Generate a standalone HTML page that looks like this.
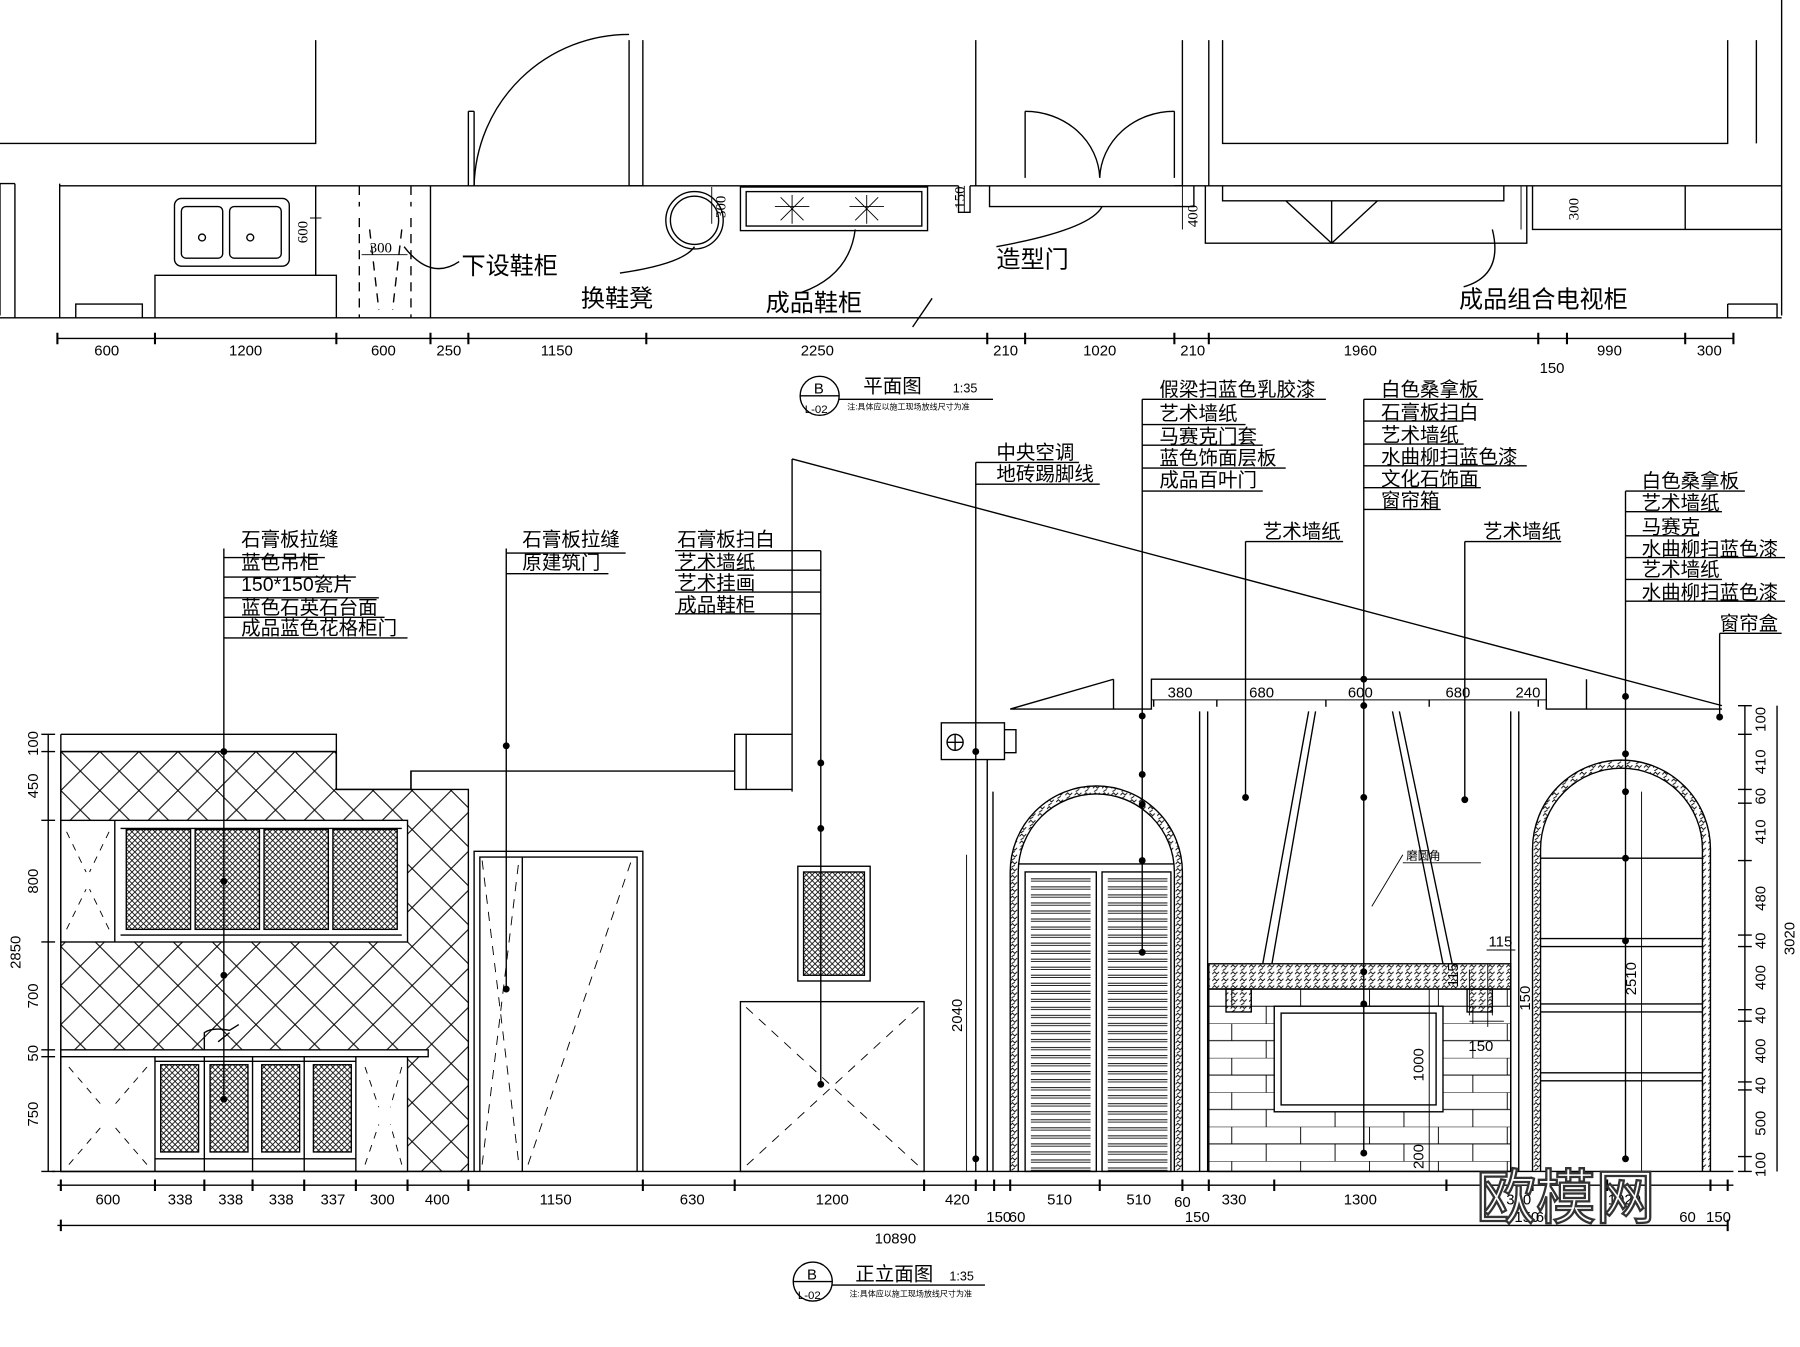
<!DOCTYPE html>
<html><head><meta charset="utf-8"><style>
html,body{margin:0;padding:0;background:#fff;}
svg{display:block}
text{font-family:"Liberation Sans","Noto Sans CJK SC",sans-serif;fill:#000}
.c{font-size:17px}
.d{font-size:13px;font-family:"Liberation Serif","Noto Sans CJK SC",serif}
</style></head><body>
<svg width="1800" height="1347" viewBox="0 0 1568 1174" preserveAspectRatio="none" xmlns="http://www.w3.org/2000/svg">
<defs>
<pattern id="dia" width="34" height="34" patternUnits="userSpaceOnUse" x="53" y="655"><path d="M0 0L34 34M34 0L0 34" stroke="#000" stroke-width="0.9"/></pattern>
<pattern id="mesh" width="5" height="5" patternUnits="userSpaceOnUse"><path d="M0 0L5 5M5 0L0 5" stroke="#000" stroke-width="0.7"/></pattern>
<pattern id="stone" width="8" height="6" patternUnits="userSpaceOnUse"><path d="M0 3l2-2 2 2 2-2M1 6l3-2" stroke="#000" stroke-width="0.8" fill="none"/></pattern>
<pattern id="brick" width="60" height="30" patternUnits="userSpaceOnUse" x="1053" y="862"><path d="M0 0H60M0 15H60M20 0V15M50 15V30" stroke="#000" stroke-width="0.8" fill="none"/></pattern>
<pattern id="lv" width="10" height="7" patternUnits="userSpaceOnUse"><path d="M0 3H10M0 5H10" stroke="#000" stroke-width="0.8"/></pattern>
</defs>
<rect width="1568" height="1174" fill="#fff"/>
<g stroke="#000" stroke-width="1.2" fill="none">
<!-- ===== PLAN ===== -->
<path d="M0 160V275M13 160V277M52 160V277M0 160H13"/>
<path d="M0 125H275V35M408 97V162M413 97V162M408 97H413"/>
<path d="M548 35V162M560 35V162M548 162H560"/>
<path d="M413 162A135 135 0 0 1 548 30"/>
<path d="M850 35V162M893 97V155M1023 97V155M1030 35V162M1023 162H1030"/>
<path d="M893 97A65 60 0 0 1 958 155M1023 97A65 60 0 0 0 958 155"/>
<path d="M1053 35V162M1065 35V125H1505V35M1530 35V125M1552 0V275M1505 35"/>
<path d="M52 162H835M845 162H1552M0 277H1552"/>
<path d="M835 162V185H845V162"/>
<rect x="152" y="173" width="100" height="59" rx="6"/>
<rect x="158" y="180" width="36" height="45" rx="4"/><rect x="200" y="180" width="45" height="45" rx="4"/>
<circle cx="176" cy="207" r="3"/><circle cx="218" cy="207" r="3"/>
<path d="M135 277V240H293V277M66 277V265H124V277"/>
<path d="M275 162V240M375 162V277" />
<path d="M313 190V277M358 190V277M313 162V180M358 162V180" stroke-dasharray="8 6"/>
<path d="M322 200L330 270M350 200L342 270" stroke-dasharray="8 6"/>
<circle cx="605" cy="192" r="25"/><circle cx="605" cy="192" r="21"/>
<rect x="645" y="163" width="163" height="38"/><rect x="650" y="167" width="153" height="30"/>
<path d="M690 170L690 195M675 180L705 180M680 172L700 192M700 172L680 192M755 170V195M740 180H770M745 172L765 192M765 172L745 192" stroke-width="0.8"/>
<path d="M862 162V180H1040V162M1050 162V212H1330V162"/>
<path d="M1065 162V175H1310V162M1120 175L1160 212M1200 175L1160 212M1160 175V212"/>
<path d="M1335 162V200H1468V162M1468 162V200H1552"/>
<path d="M1505 265H1548V277M1505 265V277"/>
<path d="M352 215Q375 245 400 228M540 238Q595 230 605 215M698 255Q740 240 745 200M868 215Q950 200 960 180M1275 250Q1310 240 1300 200M795 285L812 260"/>
<path d="M50 295H1510"/>
<path d="M50 290V300M135 290V300M293 290V300M375 290V300M408 290V300M563 290V300M860 290V300M893 290V300M1023 290V300M1053 290V300M1340 290V300M1365 290V300M1468 290V300M1510 290V300" stroke-width="1.8"/>
<path d="M275 190V240M270 190H280M270 240H280M840 162V185M1030 178V200M1030 162V180M1325 162V200M620 163V195" stroke-width="0.8"/>
<path d="M315 222H355" stroke-width="0.8"/>
<circle cx="714" cy="345" r="17"/><path d="M697 345H731M731 348H865"/>
<!-- ===== ELEVATION ===== -->
<path d="M690 400V690M690 400L1500 615"/>
<path d="M53 640H293V688H358V672H640V688H690M293 655H53M640 672V640H690M53 640V1021"/>
<path d="M358 672V688M650 640V688"/>
<path d="M53 655H293V688H408V1021H53Z" fill="url(#dia)"/>
<rect x="53" y="715" width="302" height="106" fill="#fff"/>
<path d="M100 715V821M105 722H350M105 815H350" />
<rect x="110" y="723" width="56" height="87" fill="url(#mesh)"/><rect x="170" y="723" width="56" height="87" fill="url(#mesh)"/>
<rect x="230" y="723" width="56" height="87" fill="url(#mesh)"/><rect x="290" y="723" width="56" height="87" fill="url(#mesh)"/>
<path d="M58 725L75 760M95 725L78 760M58 810L75 775M95 810L78 775" stroke-dasharray="6 6" stroke-width="0.8"/>
<rect x="53" y="915" width="320" height="6" fill="#fff"/>
<rect x="53" y="921" width="302" height="100" fill="#fff"/>
<path d="M135 921V1021M178 921V1021M220 921V1021M265 921V1021M310 921V1021M135 925H310M135 1010H310"/>
<rect x="140" y="928" width="33" height="76" fill="url(#mesh)"/><rect x="183" y="928" width="33" height="76" fill="url(#mesh)"/>
<rect x="228" y="928" width="33" height="76" fill="url(#mesh)"/><rect x="273" y="928" width="33" height="76" fill="url(#mesh)"/>
<path d="M60 930L90 965M128 930L98 965M60 1015L90 980M128 1015L98 980M318 930L330 965M350 930L340 965M318 1015L330 980M350 1015L340 980" stroke-dasharray="6 6" stroke-width="0.8"/>
<path d="M178 915V900Q185 895 200 898L208 893M190 908L200 900" />
<path d="M413 1021V742H560V1021M418 1021V747H555V1021M455 747V1021"/>
<path d="M420 750L452 1015M420 1015L452 750M460 1015L550 750" stroke-dasharray="8 7" stroke-width="0.8"/>
<rect x="695" y="755" width="63" height="100"/><rect x="700" y="760" width="53" height="90" fill="url(#mesh)"/>
<rect x="645" y="873" width="160" height="148"/>
<path d="M650 878L800 1016M800 878L650 1016" stroke-dasharray="8 7" stroke-width="0.8"/>
<rect x="820" y="630" width="55" height="32"/><circle cx="832" cy="647" r="7"/><path d="M825 647H839M832 640V654M875 636H885V656H875"/>
<path d="M850 662V1021M860 662V1021M865 1021V690"/>
<path d="M880 1021V760A75 75 0 0 1 1030 760V1021M887 1021V760A68 68 0 0 1 1023 760V1021"/>
<path d="M880 760A75 75 0 0 1 1030 760V1021H1023V760A68 68 0 0 0 887 760V1021H880Z" fill="url(#stone)" stroke="none"/>
<path d="M887 753H1023M893 760H955V1021H893ZM960 760H1020V1021H960Z"/>
<rect x="898" y="765" width="52" height="256" fill="url(#lv)" stroke="none"/><rect x="965" y="765" width="52" height="256" fill="url(#lv)" stroke="none"/>
<path d="M970 592V618H880L970 592M970 618H1003V592H1347V618H1382V592M1382 592L1382 618H1500"/>
<path d="M1003 610H1347" stroke-width="0.9"/>
<path d="M1045 620V1021M1052 620V1021M1316 620V1021M1323 620V1021"/>
<path d="M1140 620L1100 840M1146 620L1108 840M1213 620L1257 840M1219 620L1265 840"/>
<rect x="1053" y="840" width="263" height="22" fill="url(#stone)"/>
<rect x="1053" y="862" width="263" height="159" fill="url(#brick)"/>
<rect x="1068" y="862" width="22" height="20" fill="url(#stone)"/><rect x="1278" y="862" width="22" height="20" fill="url(#stone)"/>
<rect x="1110" y="877" width="147" height="92" fill="#fff"/><rect x="1116" y="883" width="135" height="80" fill="#fff"/>
<path d="M1335 1021V740A77 77 0 0 1 1490 740V1021M1342 1021V740A70 70 0 0 1 1483 740V1021"/>
<path d="M1335 740A77 77 0 0 1 1490 740V1021H1483V740A70 70 0 0 0 1342 740V1021H1335Z" fill="url(#stone)" stroke="none"/>
<path d="M1342 748H1483M1342 818H1483M1342 825H1483M1342 875H1483M1342 882H1483M1342 935H1483M1342 942H1483"/>
<path d="M45 1021H1510"/>
<path d="M195 478V960M195 486H283M195 503H310M195 521H330M195 538H335M195 556H355"/>
<path d="M441 478V862M441 482H545M441 500H530"/>
<path d="M588 480H715M588 497H715M588 516H715M588 535H715M715 480V945"/>
<path d="M850 403H940M850 422H958M850 403V662"/>
<path d="M995 348H1155M995 370H1085M995 388H1100M995 408H1120M995 428H1100M995 348V830"/>
<path d="M1188 348H1292M1188 367H1275M1188 387H1275M1188 406H1330M1188 425H1290M1188 444H1255M1188 348V1005"/>
<path d="M1416 428H1520M1416 446H1500M1416 467H1480M1416 486H1555M1416 505H1500M1416 524H1555M1416 428V1010"/>
<path d="M1085 472H1170M1085 472V695M1276 472H1360M1276 472V697M1498 552H1552M1498 552V625"/>
<path d="M1222 745L1195 790M1222 752H1290" stroke-width="0.8"/>
<path d="M1005 610V616M1060 610V616M1155 610V616M1245 610V616M1340 610V616"/>
<path d="M1295 828H1320M1280 845V885M1280 890H1310M1300 862V885" stroke-width="0.8"/>
<path d="M42 640V1021M36 640H48M36 655H48M36 715H48M36 821H48M36 915H48M36 921H48M36 1021H48"/>
<path d="M1520 615V1021M1514 615H1526M1514 640H1526M1514 688H1526M1514 700H1526M1514 750H1526M1514 815H1526M1514 825H1526M1514 880H1526M1514 890H1526M1514 943H1526M1514 950H1526M1514 1008H1526M1514 1021H1526"/>
<path d="M1548 615V1021"/>
<path d="M842 745V1021M1430 690V1021M1245 862V1021M1296 840V895" stroke-width="0.8"/>
<path d="M50 1033H1510M50 1068H1505"/>
<path d="M53 1028V1038M135 1028V1038M178 1028V1038M220 1028V1038M265 1028V1038M310 1028V1038M355 1028V1038M408 1028V1038M560 1028V1038M640 1028V1038M805 1028V1038M850 1028V1038M866 1028V1038M880 1028V1038M958 1028V1038M1030 1028V1038M1053 1028V1038M1110 1028V1038M1260 1028V1038M1316 1028V1038M1335 1028V1038M1400 1028V1038M1490 1028V1038M1505 1028V1038M53 1063V1073M1505 1063V1073" stroke-width="1.8"/>
<circle cx="708" cy="1117" r="17"/><path d="M691 1117H725M725 1120H858"/>
</g>
<g fill="#000">
<circle cx="195" cy="655" r="3"/><circle cx="195" cy="768" r="3"/><circle cx="195" cy="850" r="3"/><circle cx="195" cy="958" r="3"/>
<circle cx="441" cy="650" r="3"/><circle cx="441" cy="862" r="3"/>
<circle cx="715" cy="665" r="3"/><circle cx="715" cy="722" r="3"/><circle cx="715" cy="945" r="3"/>
<circle cx="850" cy="655" r="3"/><circle cx="850" cy="1010" r="3"/>
<circle cx="995" cy="624" r="3"/><circle cx="995" cy="701" r="3"/><circle cx="995" cy="750" r="3"/><circle cx="995" cy="830" r="3"/><circle cx="995" cy="675" r="3"/>
<circle cx="1188" cy="592" r="3"/><circle cx="1188" cy="615" r="3"/><circle cx="1188" cy="695" r="3"/><circle cx="1188" cy="847" r="3"/><circle cx="1188" cy="875" r="3"/><circle cx="1188" cy="1005" r="3"/>
<circle cx="1085" cy="695" r="3"/><circle cx="1276" cy="697" r="3"/>
<circle cx="1416" cy="607" r="3"/><circle cx="1416" cy="657" r="3"/><circle cx="1416" cy="690" r="3"/><circle cx="1416" cy="748" r="3"/><circle cx="1416" cy="820" r="3"/><circle cx="1416" cy="1010" r="3"/>
<circle cx="1498" cy="625" r="3"/>
</g>
<text x="402" y="239" style="font-size:21px">下设鞋柜</text>
<text x="506" y="267" style="font-size:21px">换鞋凳</text>
<text x="667" y="271" style="font-size:21px">成品鞋柜</text>
<text x="868" y="233" style="font-size:21px">造型门</text>
<text x="1271" y="268" style="font-size:21px">成品组合电视柜</text>
<text class="d" x="322" y="220">300</text>
<text class="d" transform="translate(268,212) rotate(-90)">600</text>
<text class="d" transform="translate(632,190) rotate(-90)">300</text>
<text class="d" transform="translate(840,182) rotate(-90)">150</text>
<text class="d" transform="translate(1043,198) rotate(-90)">400</text>
<text class="d" transform="translate(1375,192) rotate(-90)">300</text>
<g class="d" text-anchor="middle">
<text x="93" y="310">600</text><text x="214" y="310">1200</text><text x="334" y="310">600</text><text x="391" y="310">250</text><text x="485" y="310">1150</text><text x="712" y="310">2250</text><text x="876" y="310">210</text><text x="958" y="310">1020</text><text x="1039" y="310">210</text><text x="1185" y="310">1960</text><text x="1352" y="325">150</text><text x="1402" y="310">990</text><text x="1489" y="310">300</text>
</g>
<text x="709" y="343" style="font-size:13px">B</text><text x="701" y="360" style="font-size:10px">L-02</text>
<text x="752" y="342" style="font-size:17px">平面图</text><text x="830" y="342" style="font-size:11px">1:35</text>
<text x="738" y="357" style="font-size:7px">注:具体应以施工现场放线尺寸为准</text>
<g class="c">
<text x="210" y="476">石膏板拉缝</text><text x="210" y="496">蓝色吊柜</text><text x="210" y="515">150*150瓷片</text><text x="210" y="535">蓝色石英石台面</text><text x="210" y="553">成品蓝色花格柜门</text>
<text x="455" y="476">石膏板拉缝</text><text x="455" y="496">原建筑门</text>
<text x="590" y="476">石膏板扫白</text><text x="590" y="496">艺术墙纸</text><text x="590" y="514">艺术挂画</text><text x="590" y="533">成品鞋柜</text>
<text x="868" y="400">中央空调</text><text x="868" y="419">地砖踢脚线</text>
<text x="1010" y="345">假梁扫蓝色乳胶漆</text><text x="1010" y="366">艺术墙纸</text><text x="1010" y="386">马赛克门套</text><text x="1010" y="405">蓝色饰面层板</text><text x="1010" y="424">成品百叶门</text>
<text x="1203" y="345">白色桑拿板</text><text x="1203" y="365">石膏板扫白</text><text x="1203" y="385">艺术墙纸</text><text x="1203" y="404">水曲柳扫蓝色漆</text><text x="1203" y="423">文化石饰面</text><text x="1203" y="442">窗帘箱</text>
<text x="1100" y="469">艺术墙纸</text><text x="1292" y="469">艺术墙纸</text>
<text x="1430" y="425">白色桑拿板</text><text x="1430" y="444">艺术墙纸</text><text x="1430" y="465">马赛克</text><text x="1430" y="484">水曲柳扫蓝色漆</text><text x="1430" y="502">艺术墙纸</text><text x="1430" y="522">水曲柳扫蓝色漆</text>
<text x="1498" y="549">窗帘盒</text>
</g>
<text x="1225" y="749" style="font-size:10px">磨圆角</text>
<g class="d" text-anchor="middle">
<text x="1028" y="608">380</text><text x="1099" y="608">680</text><text x="1185" y="608">600</text><text x="1270" y="608">680</text><text x="1331" y="608">240</text>
<text x="1307" y="825">115</text><text x="1290" y="916">150</text>
</g>
<g class="d" text-anchor="middle">
<text transform="translate(33,648) rotate(-90)">100</text><text transform="translate(33,685) rotate(-90)">450</text><text transform="translate(33,768) rotate(-90)">800</text><text transform="translate(33,868) rotate(-90)">700</text><text transform="translate(33,918) rotate(-90)">50</text><text transform="translate(33,971) rotate(-90)">750</text><text transform="translate(18,830) rotate(-90)">2850</text>
<text transform="translate(1538,627) rotate(-90)">100</text><text transform="translate(1538,664) rotate(-90)">410</text><text transform="translate(1538,694) rotate(-90)">60</text><text transform="translate(1538,725) rotate(-90)">410</text><text transform="translate(1538,783) rotate(-90)">480</text><text transform="translate(1538,820) rotate(-90)">40</text><text transform="translate(1538,852) rotate(-90)">400</text><text transform="translate(1538,885) rotate(-90)">40</text><text transform="translate(1538,916) rotate(-90)">400</text><text transform="translate(1538,946) rotate(-90)">40</text><text transform="translate(1538,979) rotate(-90)">500</text><text transform="translate(1538,1015) rotate(-90)">100</text>
<text transform="translate(1563,818) rotate(-90)">3020</text>
<text transform="translate(838,885) rotate(-90)">2040</text><text transform="translate(1425,853) rotate(-90)">2510</text>
<text transform="translate(1240,928) rotate(-90)">1000</text><text transform="translate(1240,1008) rotate(-90)">200</text><text transform="translate(1333,870) rotate(-90)">150</text><text transform="translate(1270,850) rotate(-90)">115</text>
</g>
<g class="d" text-anchor="middle">
<text x="94" y="1050">600</text><text x="157" y="1050">338</text><text x="201" y="1050">338</text><text x="245" y="1050">338</text><text x="290" y="1050">337</text><text x="333" y="1050">300</text><text x="381" y="1050">400</text><text x="484" y="1050">1150</text><text x="603" y="1050">630</text><text x="725" y="1050">1200</text><text x="834" y="1050">420</text><text x="870" y="1065">150</text><text x="886" y="1065">60</text><text x="923" y="1050">510</text><text x="992" y="1050">510</text><text x="1030" y="1052">60</text><text x="1043" y="1065">150</text><text x="1075" y="1050">330</text><text x="1185" y="1050">1300</text><text x="1323" y="1050">330</text><text x="1330" y="1065">150</text><text x="1345" y="1065">60</text><text x="1415" y="1050">1020</text><text x="1470" y="1065">60</text><text x="1497" y="1065">150</text>
<text x="780" y="1084">10890</text>
</g>
<text x="703" y="1115" style="font-size:13px">B</text><text x="695" y="1132" style="font-size:10px">L-02</text>
<text x="745" y="1116" style="font-size:17px">正立面图</text><text x="827" y="1116" style="font-size:11px">1:35</text>
<text x="740" y="1130" style="font-size:7px">注:具体应以施工现场放线尺寸为准</text>
<text x="1286" y="1062" style="font-size:52px;fill:#fff;stroke:#333;stroke-width:2">欧模网</text>
</svg>
</body></html>
